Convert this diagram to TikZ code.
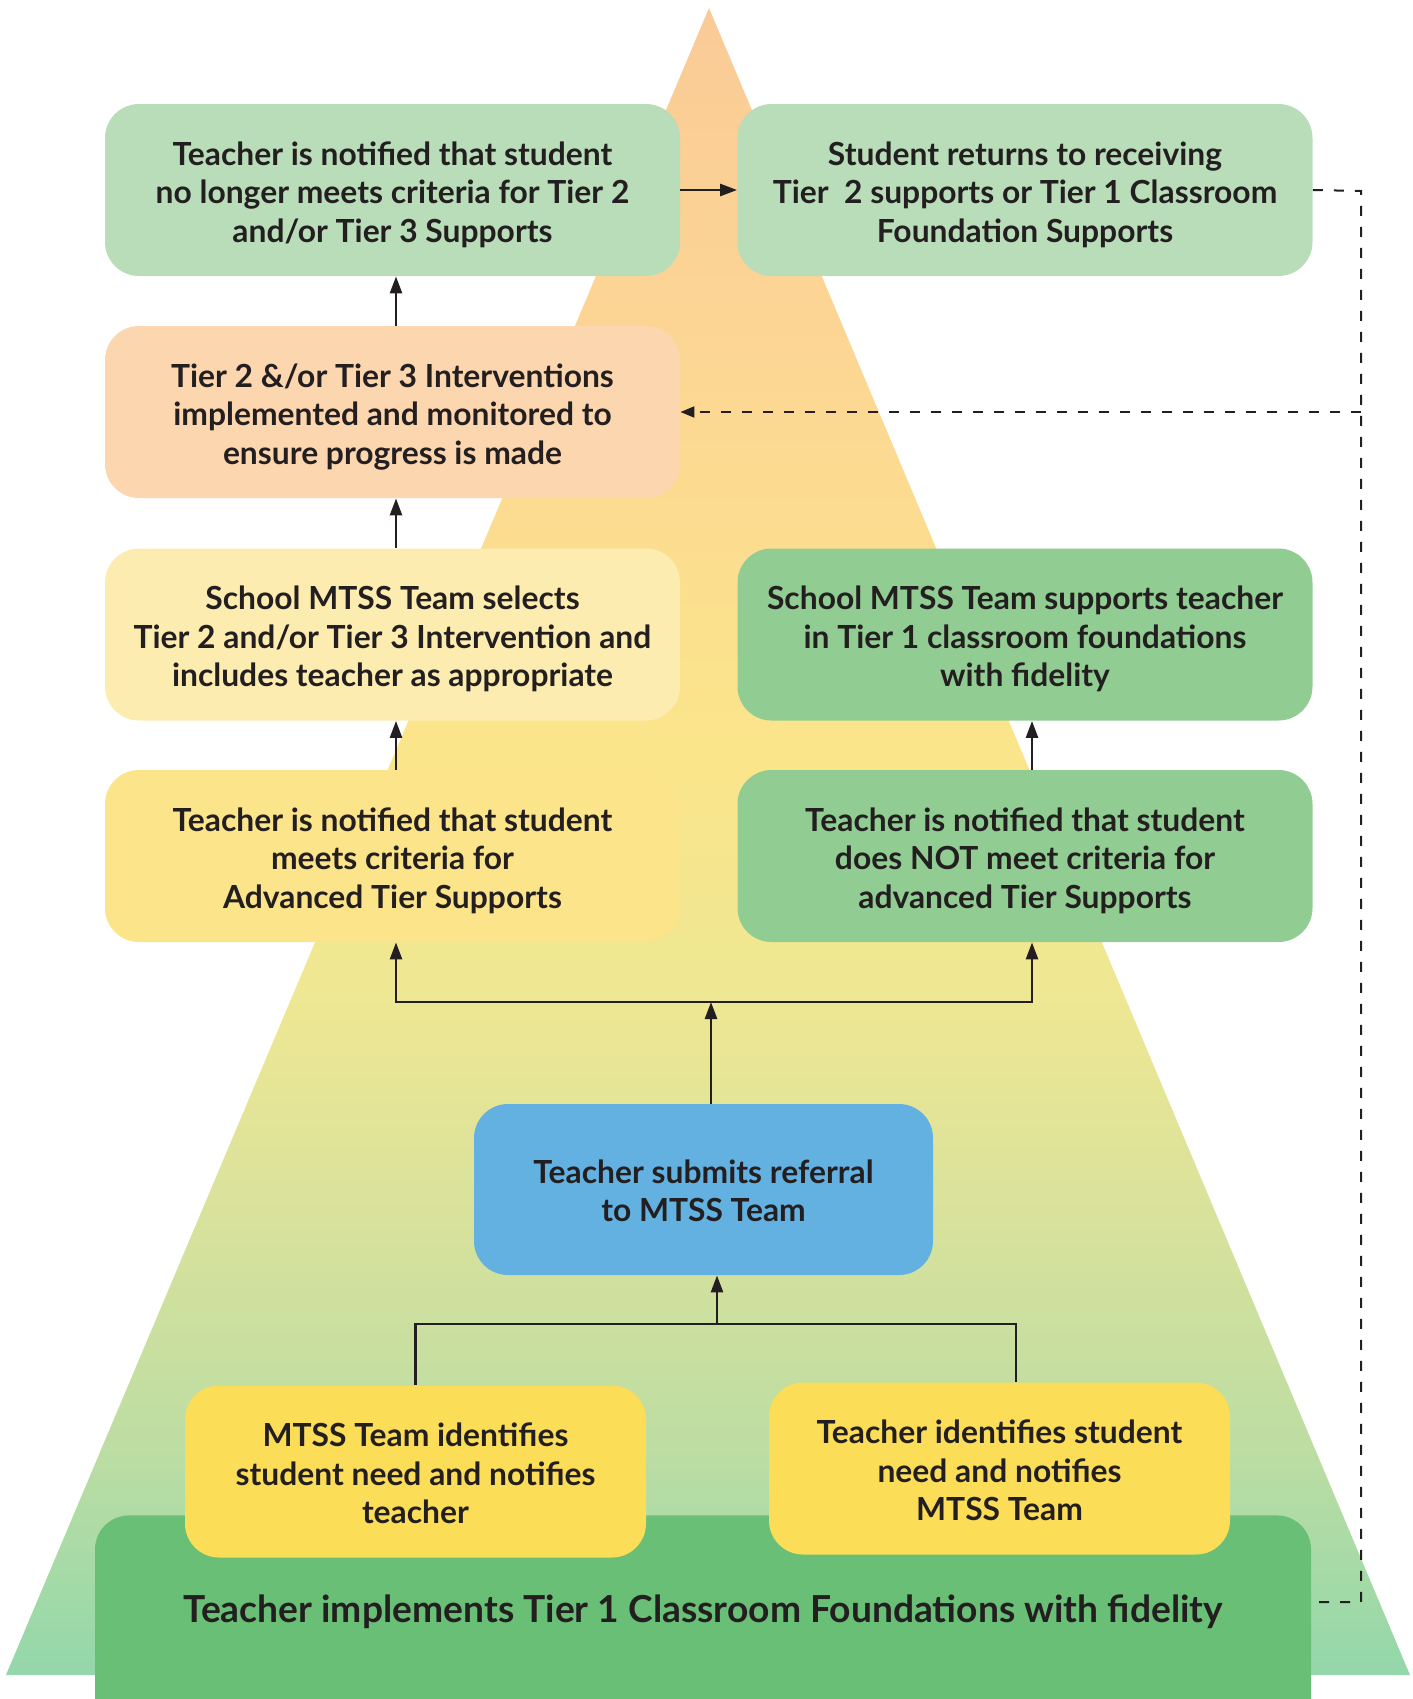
\documentclass[tikz,border=0pt]{standalone}
\usepackage{fontspec}
\setmainfont{Lato}
\usetikzlibrary{arrows.meta}

% palette
\definecolor{ink}{HTML}{231F20}
\definecolor{mint}{HTML}{B9DDB9}
\definecolor{peach}{HTML}{FCD6AF}
\definecolor{cream}{HTML}{FDECB0}
\definecolor{butter}{HTML}{FBE48A}
\definecolor{leaf}{HTML}{91CD92}
\definecolor{sky}{HTML}{62B1E1}
\definecolor{sun}{HTML}{FBDD57}
\definecolor{grass}{HTML}{6ABF77}
% pyramid gradient stops, top to bottom
\definecolor{p0}{HTML}{FACA97}
\definecolor{p1}{HTML}{FCD694}
\definecolor{p2}{HTML}{FBE58A}
\definecolor{p3}{HTML}{EEE793}
\definecolor{p4}{HTML}{DAE29B}
\definecolor{p5}{HTML}{BCDDA3}
\definecolor{p6}{HTML}{92D7AA}

\begin{document}
\begin{tikzpicture}[x=0.5pt,y=-0.5pt,
  box/.style={rounded corners=17pt, align=center, text=ink,
    font=\bfseries\fontsize{15.9}{19.3}\selectfont,
    text height=69.2pt, text depth=16.8pt,
    minimum width=287.5pt, inner sep=0pt},
  twoline/.style={text height=58.8pt, text depth=26.7pt},
  arr/.style={draw=ink, line width=1.3pt, -{Triangle[length=8.5pt,width=6pt]}},
  link/.style={draw=ink, line width=1.3pt},
  loopline/.style={draw=ink, line width=1pt, dash pattern=on 5pt off 5.5pt}]
\useasboundingbox (0,0) rectangle (1413,1699);

% pyramid with a vertical colour gradient
\begin{scope}
  \clip (709,8) -- (1410,1675) -- (6,1675) -- cycle;
  \shade[top color=p0, bottom color=p1] (0,0) rectangle (1413,351);
  \shade[top color=p1, bottom color=p2] (0,350) rectangle (1413,751);
  \shade[top color=p2, bottom color=p3] (0,750) rectangle (1413,1001);
  \shade[top color=p3, bottom color=p4] (0,1000) rectangle (1413,1201);
  \shade[top color=p4, bottom color=p5] (0,1200) rectangle (1413,1451);
  \shade[top color=p5, bottom color=p6] (0,1450) rectangle (1413,1680);
\end{scope}

% base of the pyramid
\node[fill=grass, rounded corners=17pt, minimum width=608pt, inner sep=0pt,
  text height=53.5pt, text depth=66.5pt, anchor=north, text=ink,
  font=\bfseries\fontsize{18.6}{23}\selectfont] (base) at (703,1515)
  {Teacher implements Tier 1 Classroom Foundations with fidelity};

% flow boxes
\node[box, fill=mint] (nolonger) at (392.5,190)
  {Teacher is notified that student\\no longer meets criteria for Tier 2\\and/or Tier 3 Supports};
\node[box, fill=mint] (returns) at (1025,190)
  {Student returns to receiving\\Tier\ \ 2 supports or Tier 1 Classroom\\Foundation Supports};
\node[box, fill=peach] (interv) at (392.5,412)
  {Tier 2 \&/or Tier 3 Interventions\\implemented and monitored to\\ensure progress is made};
\node[box, fill=cream] (selects) at (392.5,634.5)
  {School MTSS Team selects\\Tier 2 and/or Tier 3 Intervention and\\includes teacher as appropriate};
\node[box, fill=leaf] (supports) at (1025,634.5)
  {School MTSS Team supports teacher\\in Tier 1 classroom foundations\\with fidelity};
\node[box, fill=butter] (meets) at (392.5,856)
  {Teacher is notified that student\\meets criteria for\\Advanced Tier Supports};
\node[box, fill=leaf] (notmeet) at (1025,856)
  {Teacher is notified that student\\does NOT meet criteria for\\advanced Tier Supports};
\node[box, twoline, fill=sky, minimum width=229.5pt] (referral) at (703.5,1189.5)
  {Teacher submits referral\\to MTSS Team};
\node[box, fill=sun, minimum width=230.5pt] (teamid) at (415.5,1471.5)
  {MTSS Team identifies\\student need and notifies\\teacher};
\node[box, fill=sun, minimum width=230.5pt] (teachid) at (999.5,1468.5)
  {Teacher identifies student\\need and notifies\\MTSS Team};

% solid connectors
\draw[arr] (nolonger) -- (returns);
\draw[arr] ([xshift=1.75pt]interv.north) -- ([xshift=1.75pt]nolonger.south);
\draw[arr] ([xshift=1.75pt]selects.north) -- ([xshift=1.75pt]interv.south);
\draw[arr] ([xshift=1.75pt]meets.north) -- ([xshift=1.75pt]selects.south);
\draw[arr] ([xshift=3.5pt]notmeet.north) -- ([xshift=3.5pt]supports.south);

\coordinate (split) at (711,1002);
\draw[arr] (referral.north -| split) -- (split);
\draw[arr] (split) -| ([xshift=1.75pt]meets.south);
\draw[arr] (split) -| ([xshift=3.5pt]notmeet.south);

\coordinate (merge) at (717,1324);
\draw[link] (teamid.north) |- (merge) -| ([xshift=8.25pt]teachid.north);
\draw[arr] (merge) -- (merge |- referral.south);

% dashed return loop
\coordinate (looptop) at (1361,191);
\coordinate (loopmid) at (1361,412);
\coordinate (loopbot) at (1361,1602);
\draw[loopline] (returns.east) -- (looptop) -- (loopbot) -- (base.east |- loopbot);
\draw[loopline, -{Triangle[length=7pt,width=5.5pt]}] (loopmid) -- (interv.east);
\end{tikzpicture}
\end{document}
